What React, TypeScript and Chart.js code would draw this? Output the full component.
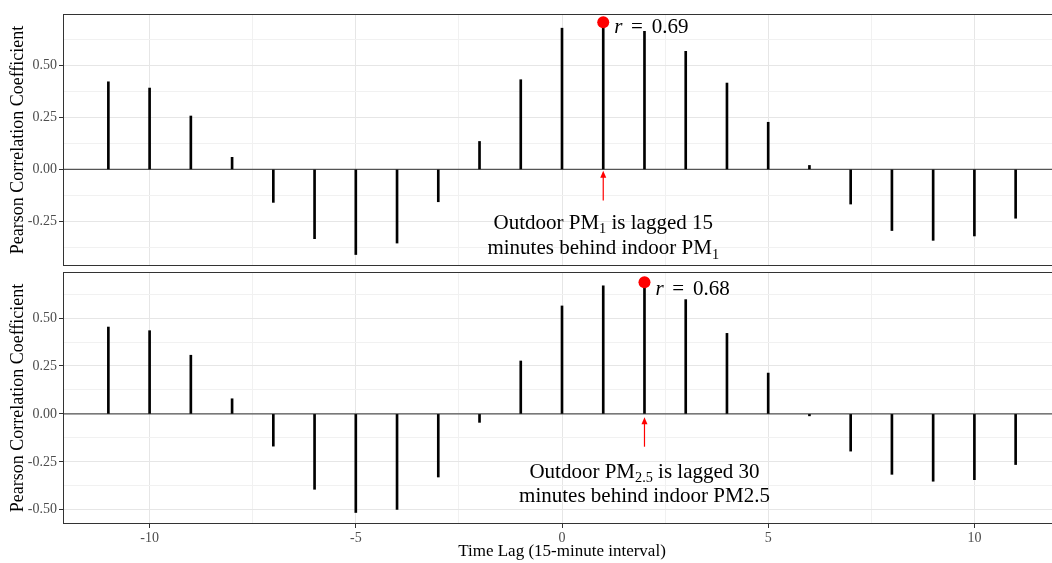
import React, { useEffect, useRef } from 'react';
import { Chart, registerables } from 'chart.js';

Chart.register(...registerables);

// ---------------- data ----------------
const lags: number[] = [-11, -10, -9, -8, -7, -6, -5, -4, -3, -2, -1, 0, 1, 2, 3, 4, 5, 6, 7, 8, 9, 10, 11];
const pm1Corr: number[] = [0.42, 0.39, 0.256, 0.058, -0.158, -0.332, -0.408, -0.353, -0.155, 0.134, 0.43, 0.677, 0.69, 0.662, 0.566, 0.414, 0.226, 0.019, -0.166, -0.293, -0.34, -0.319, -0.234];
const pm25Corr: number[] = [0.453, 0.434, 0.306, 0.079, -0.168, -0.393, -0.514, -0.498, -0.329, -0.044, 0.276, 0.563, 0.668, 0.68, 0.596, 0.42, 0.213, -0.01, -0.194, -0.315, -0.351, -0.343, -0.264];
const xMajorTicks: number[] = [-10, -5, 0, 5, 10];
const xMinorTicks: number[] = [-7.5, -2.5, 2.5, 7.5];
const yTicksTop: number[] = [-0.375, -0.25, -0.125, 0, 0.125, 0.25, 0.375, 0.5, 0.625];
const yTicksBottom: number[] = [-0.5, -0.375, -0.25, -0.125, 0, 0.125, 0.25, 0.375, 0.5, 0.625];

const SERIF = '"Liberation Serif", "Times New Roman", serif';

type Run = { text: string; sub?: boolean };

type Panel = {
  values: number[];
  yMin: number;
  yMax: number;
  yTicks: number[];
  peakLag: number;
  dotY: number;
  rLabel: string;
  rTextY: number;
  arrowFrom: number;
  arrowTo: number;
  line1: Run[];
  line2: Run[];
  line1Y: number;
  line2Y: number;
  showX: boolean;
};

const topPanel: Panel = {
  values: pm1Corr,
  yMin: -0.463,
  yMax: 0.745,
  yTicks: yTicksTop,
  peakLag: 1,
  dotY: 0.705,
  rLabel: '0.69',
  rTextY: 0.685,
  arrowFrom: -0.149,
  arrowTo: -0.006,
  line1: [{ text: 'Outdoor PM' }, { text: '1', sub: true }, { text: ' is lagged 15' }],
  line2: [{ text: 'minutes behind indoor PM' }, { text: '1', sub: true }],
  line1Y: -0.253,
  line2Y: -0.374,
  showX: false,
};

const bottomPanel: Panel = {
  values: pm25Corr,
  yMin: -0.574,
  yMax: 0.74,
  yTicks: yTicksBottom,
  peakLag: 2,
  dotY: 0.686,
  rLabel: '0.68',
  rTextY: 0.654,
  arrowFrom: -0.171,
  arrowTo: -0.017,
  line1: [{ text: 'Outdoor PM' }, { text: '2.5', sub: true }, { text: ' is lagged 30' }],
  line2: [{ text: 'minutes behind indoor PM2.5' }],
  line1Y: -0.298,
  line2Y: -0.424,
  showX: true,
};

const isMajorY = (v: number) => Math.abs(v * 4 - Math.round(v * 4)) < 1e-9;
const isMajorX = (v: number) => xMajorTicks.indexOf(v) >= 0;

function drawRuns(ctx: CanvasRenderingContext2D, runs: Run[], cx: number, cy: number, size: number) {
  const subSize = size * 0.68;
  let total = 0;
  const widths = runs.map((r) => {
    ctx.font = `${r.sub ? subSize : size}px ${SERIF}`;
    const w = ctx.measureText(r.text).width;
    total += w;
    return w;
  });
  let x = cx - total / 2;
  const baseline = cy + size * 0.33;
  ctx.textAlign = 'left';
  ctx.textBaseline = 'alphabetic';
  runs.forEach((r, i) => {
    ctx.font = `${r.sub ? subSize : size}px ${SERIF}`;
    ctx.fillText(r.text, x, r.sub ? baseline + size * 0.2 : baseline);
    x += widths[i];
  });
}

function makePlugin(p: Panel) {
  return {
    id: 'panelDecor',
    beforeDatasetsDraw(chart: any) {
      const { ctx, chartArea } = chart;
      const y = chart.scales.y.getPixelForValue(0);
      ctx.save();
      ctx.strokeStyle = '#555555';
      ctx.lineWidth = 1.3;
      ctx.beginPath();
      ctx.moveTo(chartArea.left, y);
      ctx.lineTo(chartArea.right, y);
      ctx.stroke();
      ctx.restore();
    },
    afterDatasetsDraw(chart: any) {
      const { ctx } = chart;
      const xs = chart.scales.x;
      const ys = chart.scales.y;
      const px = xs.getPixelForValue(p.peakLag);
      ctx.save();
      // arrow
      const yFrom = ys.getPixelForValue(p.arrowFrom);
      const yTo = ys.getPixelForValue(p.arrowTo);
      ctx.strokeStyle = '#ff0000';
      ctx.fillStyle = '#ff0000';
      ctx.lineWidth = 1.2;
      ctx.beginPath();
      ctx.moveTo(px, yFrom);
      ctx.lineTo(px, yTo + 5);
      ctx.stroke();
      ctx.beginPath();
      ctx.moveTo(px, yTo);
      ctx.lineTo(px - 3, yTo + 7);
      ctx.lineTo(px + 3, yTo + 7);
      ctx.closePath();
      ctx.fill();
      // annotation text
      ctx.fillStyle = '#000000';
      drawRuns(ctx, p.line1, px, ys.getPixelForValue(p.line1Y), 21);
      drawRuns(ctx, p.line2, px, ys.getPixelForValue(p.line2Y), 21);
      // r = value
      const size = 21;
      const baseY = ys.getPixelForValue(p.rTextY) + size * 0.33;
      let x = px + 11;
      ctx.textAlign = 'left';
      ctx.textBaseline = 'alphabetic';
      ctx.font = `italic ${size}px ${SERIF}`;
      ctx.fillText('r', x, baseY);
      x += ctx.measureText('r').width + 8.5;
      ctx.font = `${size}px ${SERIF}`;
      ctx.fillText('=', x, baseY);
      x += ctx.measureText('=').width + 9;
      ctx.fillText(p.rLabel, x, baseY);
      ctx.restore();
    },
    afterDraw(chart: any) {
      const { ctx, chartArea } = chart;
      ctx.save();
      ctx.strokeStyle = '#333333';
      ctx.lineWidth = 1;
      ctx.strokeRect(chartArea.left + 0.5, chartArea.top + 0.5, chartArea.right - chartArea.left - 1, chartArea.bottom - chartArea.top - 1);
      ctx.restore();
    },
  };
}

function buildConfig(p: Panel): any {
  return {
    type: 'bar',
    data: {
      datasets: [
        {
          type: 'scatter',
          data: [{ x: p.peakLag, y: p.dotY }],
          pointRadius: 6,
          pointBackgroundColor: '#ff0000',
          pointBorderWidth: 0,
          order: 0,
        },
        {
          type: 'bar',
          data: lags.map((l, i) => ({ x: l, y: p.values[i] })),
          backgroundColor: '#000000',
          borderWidth: 0,
          barThickness: 2,
          order: 1,
        },
      ],
    },
    options: {
      responsive: false,
      maintainAspectRatio: false,
      animation: false,
      events: [],
      layout: {
        autoPadding: false,
        padding: { top: p.showX ? 4 : 14, bottom: p.showX ? 0 : 2, left: 0, right: 0 },
      },
      plugins: { legend: { display: false }, tooltip: { enabled: false } },
      scales: {
        x: {
          type: 'linear',
          min: -12.1,
          max: 12.1,
          offset: false,
          afterBuildTicks: (s: any) => {
            s.ticks = [...xMajorTicks, ...xMinorTicks].sort((a, b) => a - b).map((v) => ({ value: v }));
          },
          afterFit: (s: any) => {
            s.height = p.showX ? 39 : 0;
            s.paddingLeft = 0;
            s.paddingRight = 0;
            s.paddingTop = 0;
            s.paddingBottom = 0;
          },
          grid: {
            offset: false,
            drawTicks: p.showX,
            tickLength: 4,
            color: (c: any) => (c.tick && isMajorX(c.tick.value) ? '#e6e6e6' : '#f1f1f1'),
            tickColor: (c: any) => (c.tick && isMajorX(c.tick.value) ? '#333333' : 'rgba(0,0,0,0)'),
            lineWidth: 1,
          },
          border: { display: false },
          ticks: {
            display: p.showX,
            autoSkip: false,
            maxRotation: 0,
            padding: 2,
            color: '#4d4d4d',
            font: { family: SERIF, size: 14 },
            callback: (v: any) => (isMajorX(v) ? String(v) : ''),
          },
          title: {
            display: p.showX,
            text: 'Time Lag (15-minute interval)',
            color: '#000000',
            font: { family: SERIF, size: 17 },
            padding: { top: 0, bottom: 1 },
          },
        },
        y: {
          type: 'linear',
          min: p.yMin,
          max: p.yMax,
          afterBuildTicks: (s: any) => {
            s.ticks = p.yTicks.map((v) => ({ value: v }));
          },
          afterFit: (s: any) => {
            s.width = 63;
            s.paddingLeft = 0;
            s.paddingRight = 0;
            s.paddingTop = 0;
            s.paddingBottom = 0;
          },
          grid: {
            drawTicks: true,
            tickLength: 4,
            color: (c: any) => (c.tick && isMajorY(c.tick.value) ? '#e6e6e6' : '#f1f1f1'),
            tickColor: (c: any) => (c.tick && isMajorY(c.tick.value) ? '#333333' : 'rgba(0,0,0,0)'),
            lineWidth: 1,
          },
          border: { display: false },
          ticks: {
            autoSkip: false,
            padding: 2,
            color: '#4d4d4d',
            font: { family: SERIF, size: 14 },
            callback: (v: any) => (isMajorY(v) ? Number(v).toFixed(2) : ''),
          },
          title: {
            display: true,
            text: 'Pearson Correlation Coefficient',
            color: '#000000',
            font: { family: SERIF, size: 18 },
            padding: { top: 7, bottom: 0 },
          },
        },
      },
    },
    plugins: [makePlugin(p)],
  };
}

function PanelChart({ panel, width, height, top }: { panel: Panel; width: number; height: number; top: number }) {
  const ref = useRef<HTMLCanvasElement | null>(null);
  useEffect(() => {
    if (!ref.current) return;
    const chart = new Chart(ref.current, buildConfig(panel));
    return () => chart.destroy();
  }, [panel]);
  return (
    <canvas
      ref={ref}
      width={width}
      height={height}
      style={{ position: 'absolute', left: 0, top, width, height, display: 'block' }}
    />
  );
}

export default function App() {
  return (
    <div
      style={{
        position: 'fixed',
        left: 0,
        top: 0,
        width: 1052,
        height: 563,
        overflow: 'hidden',
        background: '#ffffff',
      }}
    >
      <PanelChart panel={topPanel} width={1061} height={268} top={0} />
      <PanelChart panel={bottomPanel} width={1061} height={295} top={268} />
    </div>
  );
}
